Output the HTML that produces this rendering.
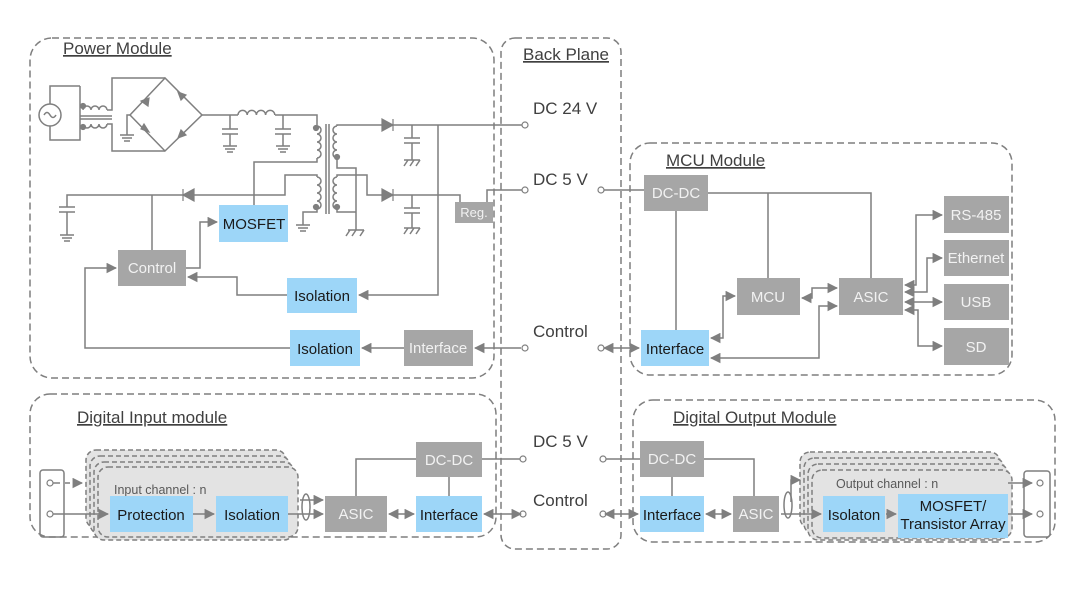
<!DOCTYPE html>
<html><head><meta charset="utf-8"><style>
html,body{margin:0;padding:0;background:#fff;}
svg{display:block;}
text{font-family:"Liberation Sans",sans-serif;}
</style></head><body>
<svg width="1080" height="608" viewBox="0 0 1080 608" xmlns="http://www.w3.org/2000/svg">
<defs>
<marker id="a" viewBox="0 0 10 10" refX="9" refY="5" markerWidth="7" markerHeight="7" orient="auto-start-reverse"><path d="M0,0L10,5L0,10z" fill="#7f7f7f"/></marker>
</defs>
<g fill="none" stroke="#7f7f7f" stroke-width="1.5" stroke-dasharray="7,4">
<rect x="30" y="38" width="464" height="340" rx="22"/>
<rect x="501" y="38" width="120" height="511" rx="14"/>
<rect x="630" y="143" width="382" height="232" rx="20"/>
<rect x="30" y="394" width="466" height="143" rx="20"/>
<rect x="633" y="400" width="422" height="142" rx="20"/>
</g>
<g font-size="17" fill="#404040">
<text x="63" y="54" text-decoration="underline">Power Module</text>
<text x="523" y="60" text-decoration="underline">Back Plane</text>
<text x="666" y="166" text-decoration="underline">MCU Module</text>
<text x="77" y="423" text-decoration="underline">Digital Input module</text>
<text x="673" y="423" text-decoration="underline">Digital Output Module</text>
<text x="533" y="114">DC 24 V</text>
<text x="533" y="185">DC 5 V</text>
<text x="533" y="337">Control</text>
<text x="533" y="447">DC 5 V</text>
<text x="533" y="506">Control</text>
</g>

<!-- power circuit -->
<g fill="none" stroke="#7f7f7f" stroke-width="1.5">
<path d="M80,86H50V140H80V86"/>
<circle cx="50" cy="115" r="11" fill="#fff"/>
<path d="M44,115q3,-5 6,0t6,0"/>
<path d="M83,110a4,4 0 0 1 8,0a4,4 0 0 1 8,0a4,4 0 0 1 8,0"/>
<path d="M83,124a4,4 0 0 0 8,0a4,4 0 0 0 8,0a4,4 0 0 0 8,0"/>
<path d="M80,116H112M80,119H112"/>
<path d="M107,110H112V78H165M107,124H112V151H165"/>
<path d="M165,78L130,115L165,151L202,115Z"/>
<path d="M130,115H127V135M120,135H134M122,138H132M124,141H130"/>
<path d="M202,115H238M275,115H317V126"/>
<path d="M238,115a4.6,4.6 0 0 1 9.2,0a4.6,4.6 0 0 1 9.2,0a4.6,4.6 0 0 1 9.2,0a4.6,4.6 0 0 1 9.2,0"/>
<path d="M230,115V129M222,129H238M222,134H238M230,134V146M223,146H237M225,149H235M227,152H233"/>
<path d="M283,115V129M275,129H291M275,134H291M283,134V146M276,146H290M278,149H288M280,152H286"/>
<path d="M326,124V214M329,124V214"/>
<path d="M317,126a4,4 0 0 1 0,8a4,4 0 0 1 0,8a4,4 0 0 1 0,8a4,4 0 0 1 0,8"/>
<path d="M337,126a4,4 0 0 0 0,8a4,4 0 0 0 0,8a4,4 0 0 0 0,8a4,4 0 0 0 0,8"/>
<path d="M317,177a4,4 0 0 1 0,8a4,4 0 0 1 0,8a4,4 0 0 1 0,8a4,4 0 0 1 0,8"/>
<path d="M337,177a4,4 0 0 0 0,8a4,4 0 0 0 0,8a4,4 0 0 0 0,8a4,4 0 0 0 0,8"/>
<path d="M337,126V125H525"/>
<path d="M317,158V162H254V205"/>
<path d="M317,177V175H285V195H67V207"/>
<path d="M152,195V250"/>
<path d="M59,207H75M59,212H75M67,212V235M60,235H74M62,238H72M64,241H70"/>
<path d="M317,209V212H303V225M296,225H310M298,228H308M300,231H306"/>
<path d="M337,158V168H356V230M337,209V212H356M348,230H364M350,230L346,236M356,230L352,236M364,230L360,236"/>
<path d="M337,177V175H367V195H460V202"/>
<path d="M487,202V190H525"/>
<path d="M412,125V138M404,138H420M404,143H420M412,143V160M404,160H420M408,160L404,166M414,160L410,166M420,160L416,166"/>
<path d="M412,195V208M404,208H420M404,213H420M412,213V228M404,228H420M408,228L404,234M414,228L410,234M420,228L416,234"/>
<path d="M438,125V295H359" marker-end="url(#a)"/>
<path d="M287,295H237V277H188" marker-end="url(#a)"/>
<path d="M186,268H200V222H217" marker-end="url(#a)"/>
<path d="M290,348H85V268H116" marker-end="url(#a)"/>
<path d="M404,348H362" marker-end="url(#a)"/>
<path d="M521,348H475" marker-end="url(#a)"/>
</g>
<g fill="#7f7f7f" stroke="#7f7f7f" stroke-width="1.2">
<path d="M141,101l8,-3l-1,8z"/><path d="M178,92l8,3l-5,5z"/>
<path d="M141,129l8,3l-5,-8z"/><path d="M178,138l8,-3l-5,-5z"/>
<path d="M382,119V131L393,125Z"/><path d="M393,119V131"/>
<path d="M382,189V201L393,195Z"/><path d="M393,189V201"/>
<path d="M194,189V201L183,195Z"/><path d="M183,189V201"/>
<circle cx="83" cy="106" r="2.5"/><circle cx="83" cy="127" r="2.5"/>
<circle cx="316" cy="128" r="2.5"/><circle cx="337" cy="157" r="2.5"/>
<circle cx="316" cy="207" r="2.5"/><circle cx="337" cy="207" r="2.5"/>
</g>
<g fill="#fff" stroke="#7f7f7f" stroke-width="1.2">
<circle cx="525" cy="125" r="3"/><circle cx="525" cy="190" r="3"/><circle cx="525" cy="348" r="3"/>
<circle cx="523" cy="459" r="3"/><circle cx="523" cy="514" r="3"/>
<circle cx="601" cy="190" r="3"/><circle cx="601" cy="348" r="3"/>
<circle cx="603" cy="459" r="3"/><circle cx="603" cy="514" r="3"/>
</g>

<!-- MCU lines -->
<g fill="none" stroke="#7f7f7f" stroke-width="1.5">
<path d="M604,190H644M708,193H871V278M768,193V278M676,211V330"/>
<path d="M604,348H639" marker-start="url(#a)" marker-end="url(#a)"/>
<path d="M711,338H723V296H735" marker-start="url(#a)" marker-end="url(#a)"/>
<path d="M711,358H819V306H837" marker-start="url(#a)" marker-end="url(#a)"/>
<path d="M802,298H812V288H837" marker-start="url(#a)" marker-end="url(#a)"/>
<path d="M905,285H916V215H942" marker-start="url(#a)" marker-end="url(#a)"/>
<path d="M905,292H927V258H942" marker-start="url(#a)" marker-end="url(#a)"/>
<path d="M905,302H942" marker-start="url(#a)" marker-end="url(#a)"/>
<path d="M905,310H918V346H942" marker-start="url(#a)" marker-end="url(#a)"/>
</g>

<!-- Input module lines/stack -->
<g stroke="#7f7f7f" stroke-width="1.5" stroke-dasharray="5,3" fill="#e3e3e3">
<rect x="86" y="450" width="200" height="78" rx="10"/>
<rect x="90" y="456" width="200" height="78" rx="10"/>
<rect x="94" y="462" width="200" height="78" rx="10"/>
<rect x="98" y="467" width="200" height="70" rx="10"/>
<rect x="800" y="452" width="200" height="76" rx="10"/>
<rect x="804" y="458" width="200" height="76" rx="10"/>
<rect x="808" y="464" width="200" height="76" rx="10"/>
<rect x="812" y="470" width="200" height="68" rx="10"/>
</g>
<g fill="none" stroke="#7f7f7f" stroke-width="1.5">
<rect x="40" y="470" width="24" height="67" rx="3"/>
<rect x="1024" y="471" width="26" height="66" rx="3"/>
<path d="M50,483H60" /><path d="M65,483H82" stroke-dasharray="5,3" marker-end="url(#a)"/>
<path d="M52,514H108" marker-end="url(#a)"/>
<path d="M193,514H214" marker-end="url(#a)"/>
<path d="M288,514H323" marker-end="url(#a)"/>
<path d="M300,500H323" marker-end="url(#a)"/>
<ellipse cx="306" cy="507" rx="4" ry="13"/>
<path d="M389,514H414" marker-start="url(#a)" marker-end="url(#a)"/>
<path d="M484,514H521" marker-start="url(#a)" marker-end="url(#a)"/>
<path d="M356,496V459H416M482,459H520M449,477V496"/>
<path d="M605,514H638" marker-start="url(#a)" marker-end="url(#a)"/>
<path d="M706,514H731" marker-start="url(#a)" marker-end="url(#a)"/>
<path d="M606,459H640M704,459H754V496M672,477V496"/>
<path d="M781,514H821" marker-end="url(#a)"/>
<path d="M791,502V480H800" marker-end="url(#a)"/>
<ellipse cx="788" cy="505" rx="4" ry="13"/>
<path d="M886,514H896" marker-end="url(#a)"/>
<path d="M1008,483H1032" marker-end="url(#a)"/>
<path d="M1008,514H1032" marker-end="url(#a)"/>
</g>
<g fill="#fff" stroke="#7f7f7f" stroke-width="1.2">
<circle cx="50" cy="483" r="3"/><circle cx="50" cy="514" r="3"/>
<circle cx="1040" cy="483" r="3"/><circle cx="1040" cy="514" r="3"/>
</g>
<g font-size="12.5" fill="#595959">
<text x="114" y="494">Input channel : n</text>
<text x="836" y="488">Output channel : n</text>
</g>

<!-- boxes -->
<g fill="#a6a6a6">
<rect x="455" y="202" width="38" height="21"/>
<rect x="118" y="250" width="68" height="36"/>
<rect x="404" y="330" width="69" height="36"/>
<rect x="644" y="175" width="64" height="36"/>
<rect x="737" y="278" width="63" height="37"/>
<rect x="839" y="278" width="64" height="37"/>
<rect x="944" y="196" width="65" height="37"/>
<rect x="944" y="240" width="65" height="36"/>
<rect x="944" y="284" width="65" height="36"/>
<rect x="944" y="328" width="65" height="37"/>
<rect x="416" y="442" width="66" height="35"/>
<rect x="325" y="496" width="62" height="36"/>
<rect x="640" y="441" width="64" height="36"/>
<rect x="733" y="496" width="46" height="36"/>
</g>
<g fill="#9dd6f8">
<rect x="219" y="205" width="69" height="37"/>
<rect x="287" y="278" width="70" height="35"/>
<rect x="290" y="330" width="70" height="36"/>
<rect x="641" y="330" width="68" height="36"/>
<rect x="110" y="496" width="83" height="36"/>
<rect x="216" y="496" width="72" height="36"/>
<rect x="416" y="496" width="66" height="36"/>
<rect x="640" y="496" width="64" height="36"/>
<rect x="823" y="496" width="62" height="36"/>
<rect x="898" y="494" width="110" height="44"/>
</g>
<g font-size="15" fill="#f2f2f2" text-anchor="middle">
<text x="474" y="217" font-size="13">Reg.</text>
<text x="152" y="273">Control</text>
<text x="438" y="353">Interface</text>
<text x="676" y="198">DC-DC</text>
<text x="768" y="302">MCU</text>
<text x="871" y="302">ASIC</text>
<text x="976" y="220">RS-485</text>
<text x="976" y="263">Ethernet</text>
<text x="976" y="307">USB</text>
<text x="976" y="352">SD</text>
<text x="449" y="465">DC-DC</text>
<text x="356" y="519">ASIC</text>
<text x="672" y="464">DC-DC</text>
<text x="756" y="519">ASIC</text>
</g>
<g font-size="15" fill="#1a1a1a" text-anchor="middle">
<text x="254" y="229">MOSFET</text>
<text x="322" y="301">Isolation</text>
<text x="325" y="354">Isolation</text>
<text x="675" y="354">Interface</text>
<text x="151" y="520">Protection</text>
<text x="252" y="520">Isolation</text>
<text x="449" y="520">Interface</text>
<text x="672" y="520">Interface</text>
<text x="854" y="520">Isolaton</text>
<text x="953" y="511">MOSFET/</text>
<text x="953" y="529">Transistor Array</text>
</g>
</svg>
</body></html>
